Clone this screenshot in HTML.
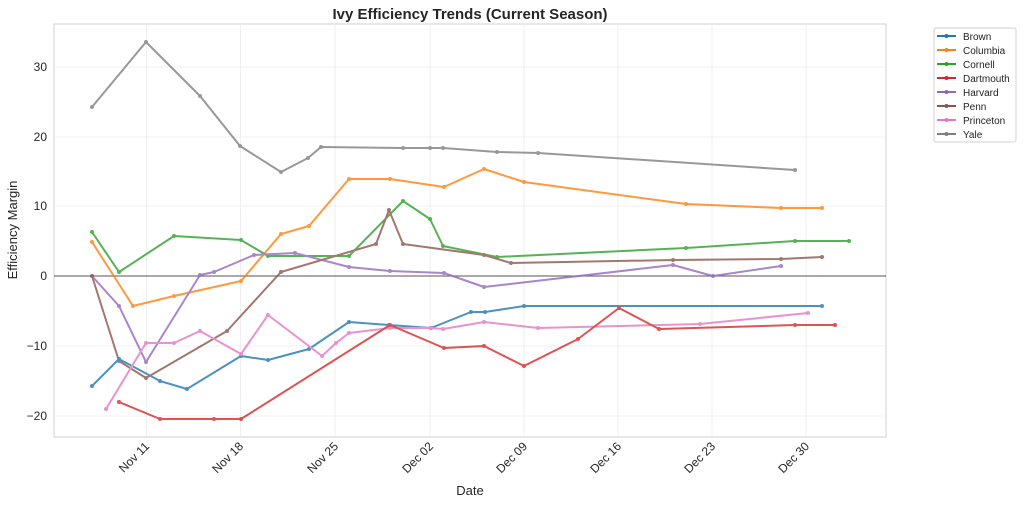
<!DOCTYPE html>
<html><head><meta charset="utf-8"><style>
body{margin:0;background:#fff;}
svg{display:block;font-family:"Liberation Sans","DejaVu Sans",sans-serif;}
</style></head><body>
<svg width="1024" height="505" xmlns="http://www.w3.org/2000/svg">
<rect width="1024" height="505" fill="#fff"/>
<text x="470" y="19" text-anchor="middle" font-size="15" font-weight="bold" fill="#262626">Ivy Efficiency Trends (Current Season)</text>
<rect x="54" y="24" width="832" height="413" fill="#fff" stroke="#d0d0d0" stroke-width="1"/>
<g stroke="#ebebeb" stroke-width="0.8">
<line x1="54" y1="67" x2="886" y2="67"/><line x1="54" y1="137" x2="886" y2="137"/><line x1="54" y1="206" x2="886" y2="206"/><line x1="54" y1="346" x2="886" y2="346"/><line x1="54" y1="416" x2="886" y2="416"/>
<line x1="146.5" y1="24" x2="146.5" y2="437"/><line x1="240.5" y1="24" x2="240.5" y2="437"/><line x1="335" y1="24" x2="335" y2="437"/><line x1="430" y1="24" x2="430" y2="437"/><line x1="524" y1="24" x2="524" y2="437"/><line x1="618" y1="24" x2="618" y2="437"/><line x1="712" y1="24" x2="712" y2="437"/><line x1="806" y1="24" x2="806" y2="437"/>
</g>
<line x1="54" y1="276" x2="886" y2="276" stroke="#555" stroke-width="1"/>
<g font-size="12" fill="#262626" text-anchor="end">
<text x="47" y="71">30</text><text x="47" y="141">20</text><text x="47" y="210">10</text><text x="47" y="280">0</text><text x="47" y="350">−10</text><text x="47" y="420">−20</text>
</g>
<g font-size="12" fill="#262626" text-anchor="end">
<text transform="translate(150,447) rotate(-45)">Nov 11</text>
<text transform="translate(244,447) rotate(-45)">Nov 18</text>
<text transform="translate(339,447) rotate(-45)">Nov 25</text>
<text transform="translate(434,447) rotate(-45)">Dec 02</text>
<text transform="translate(528,447) rotate(-45)">Dec 09</text>
<text transform="translate(622,447) rotate(-45)">Dec 16</text>
<text transform="translate(716,447) rotate(-45)">Dec 23</text>
<text transform="translate(810,447) rotate(-45)">Dec 30</text>
</g>
<text x="470" y="495" text-anchor="middle" font-size="13" fill="#262626">Date</text>
<text transform="translate(17,230) rotate(-90)" text-anchor="middle" font-size="13" fill="#262626">Efficiency Margin</text>
<defs>
<marker id="m0" viewBox="0 0 4 4" refX="2" refY="2" markerWidth="4" markerHeight="4" markerUnits="userSpaceOnUse"><circle cx="2" cy="2" r="2" fill="#1f77b4"/></marker>
<marker id="m1" viewBox="0 0 4 4" refX="2" refY="2" markerWidth="4" markerHeight="4" markerUnits="userSpaceOnUse"><circle cx="2" cy="2" r="2" fill="#ff7f0e"/></marker>
<marker id="m2" viewBox="0 0 4 4" refX="2" refY="2" markerWidth="4" markerHeight="4" markerUnits="userSpaceOnUse"><circle cx="2" cy="2" r="2" fill="#2ca02c"/></marker>
<marker id="m3" viewBox="0 0 4 4" refX="2" refY="2" markerWidth="4" markerHeight="4" markerUnits="userSpaceOnUse"><circle cx="2" cy="2" r="2" fill="#d62728"/></marker>
<marker id="m4" viewBox="0 0 4 4" refX="2" refY="2" markerWidth="4" markerHeight="4" markerUnits="userSpaceOnUse"><circle cx="2" cy="2" r="2" fill="#9467bd"/></marker>
<marker id="m5" viewBox="0 0 4 4" refX="2" refY="2" markerWidth="4" markerHeight="4" markerUnits="userSpaceOnUse"><circle cx="2" cy="2" r="2" fill="#8c564b"/></marker>
<marker id="m6" viewBox="0 0 4 4" refX="2" refY="2" markerWidth="4" markerHeight="4" markerUnits="userSpaceOnUse"><circle cx="2" cy="2" r="2" fill="#e377c2"/></marker>
<marker id="m7" viewBox="0 0 4 4" refX="2" refY="2" markerWidth="4" markerHeight="4" markerUnits="userSpaceOnUse"><circle cx="2" cy="2" r="2" fill="#7f7f7f"/></marker>
</defs>
<g fill="none" stroke-width="2" stroke-linejoin="round" opacity="0.8">
<polyline stroke="#7f7f7f" marker-start="url(#m7)" marker-mid="url(#m7)" marker-end="url(#m7)" points="92,107 146,42 200,96 240,146 281,172 308,158 321,147 403,148 430,148 443,148 497,152 538,153 795,170"/>
<polyline stroke="#ff7f0e" marker-start="url(#m1)" marker-mid="url(#m1)" marker-end="url(#m1)" points="92,242 133,306 174,296 241,281 281,234 309,226 349,179 390,179 444,187 484,169 524,182 686,204 781,208 822,208"/>
<polyline stroke="#2ca02c" marker-start="url(#m2)" marker-mid="url(#m2)" marker-end="url(#m2)" points="92,232 119,272 174,236 241,240 268,256 349,256 403,201 430,219 443,246 497,257 686,248 795,241 849,241"/>
<polyline stroke="#9467bd" marker-start="url(#m4)" marker-mid="url(#m4)" marker-end="url(#m4)" points="92,276 119,306 146,362 200,275 214,272 254,255 295,253 349,267 390,271 444,273 484,287 673,265 713,276 781,266"/>
<polyline stroke="#8c564b" marker-start="url(#m5)" marker-mid="url(#m5)" marker-end="url(#m5)" points="92,276 119,361 146,378 227,331 281,272 376,244 389,210 403,244 484,255 511,263 673,260 781,259 822,257"/>
<polyline stroke="#1f77b4" marker-start="url(#m0)" marker-mid="url(#m0)" marker-end="url(#m0)" points="92,386 119,359 160,381 187,389 241,356 268,360 309,349 349,322 389,325 431,328 471,312 485,312 524,306 822,306"/>
<polyline stroke="#e377c2" marker-start="url(#m6)" marker-mid="url(#m6)" marker-end="url(#m6)" points="106,409 146,343 174,343 200,331 241,354 268,315 322,356 336,343 349,333 390,328 430,328 443,329 484,322 538,328 700,324 808,313"/>
<polyline stroke="#d62728" marker-start="url(#m3)" marker-mid="url(#m3)" marker-end="url(#m3)" points="119,402 160,419 214,419 241,419 390,325 444,348 484,346 524,366 578,339 619,308 659,329 795,325 835,325"/>
</g>
<rect x="934" y="28" width="82" height="114" fill="#fff" stroke="#d0d0d0" rx="2"/>
<g font-size="10" fill="#222" stroke-width="2">
<line x1="937" y1="36" x2="956" y2="36" stroke="#1f77b4"/><circle cx="946.5" cy="36" r="2" fill="#1f77b4"/><text x="963" y="40">Brown</text>
<line x1="937" y1="50" x2="956" y2="50" stroke="#ff7f0e"/><circle cx="946.5" cy="50" r="2" fill="#ff7f0e"/><text x="963" y="54">Columbia</text>
<line x1="937" y1="64" x2="956" y2="64" stroke="#2ca02c"/><circle cx="946.5" cy="64" r="2" fill="#2ca02c"/><text x="963" y="68">Cornell</text>
<line x1="937" y1="78" x2="956" y2="78" stroke="#d62728"/><circle cx="946.5" cy="78" r="2" fill="#d62728"/><text x="963" y="82">Dartmouth</text>
<line x1="937" y1="92" x2="956" y2="92" stroke="#9467bd"/><circle cx="946.5" cy="92" r="2" fill="#9467bd"/><text x="963" y="96">Harvard</text>
<line x1="937" y1="106" x2="956" y2="106" stroke="#8c564b"/><circle cx="946.5" cy="106" r="2" fill="#8c564b"/><text x="963" y="110">Penn</text>
<line x1="937" y1="120" x2="956" y2="120" stroke="#e377c2"/><circle cx="946.5" cy="120" r="2" fill="#e377c2"/><text x="963" y="124">Princeton</text>
<line x1="937" y1="134" x2="956" y2="134" stroke="#7f7f7f"/><circle cx="946.5" cy="134" r="2" fill="#7f7f7f"/><text x="963" y="138">Yale</text>
</g>
</svg>
</body></html>
